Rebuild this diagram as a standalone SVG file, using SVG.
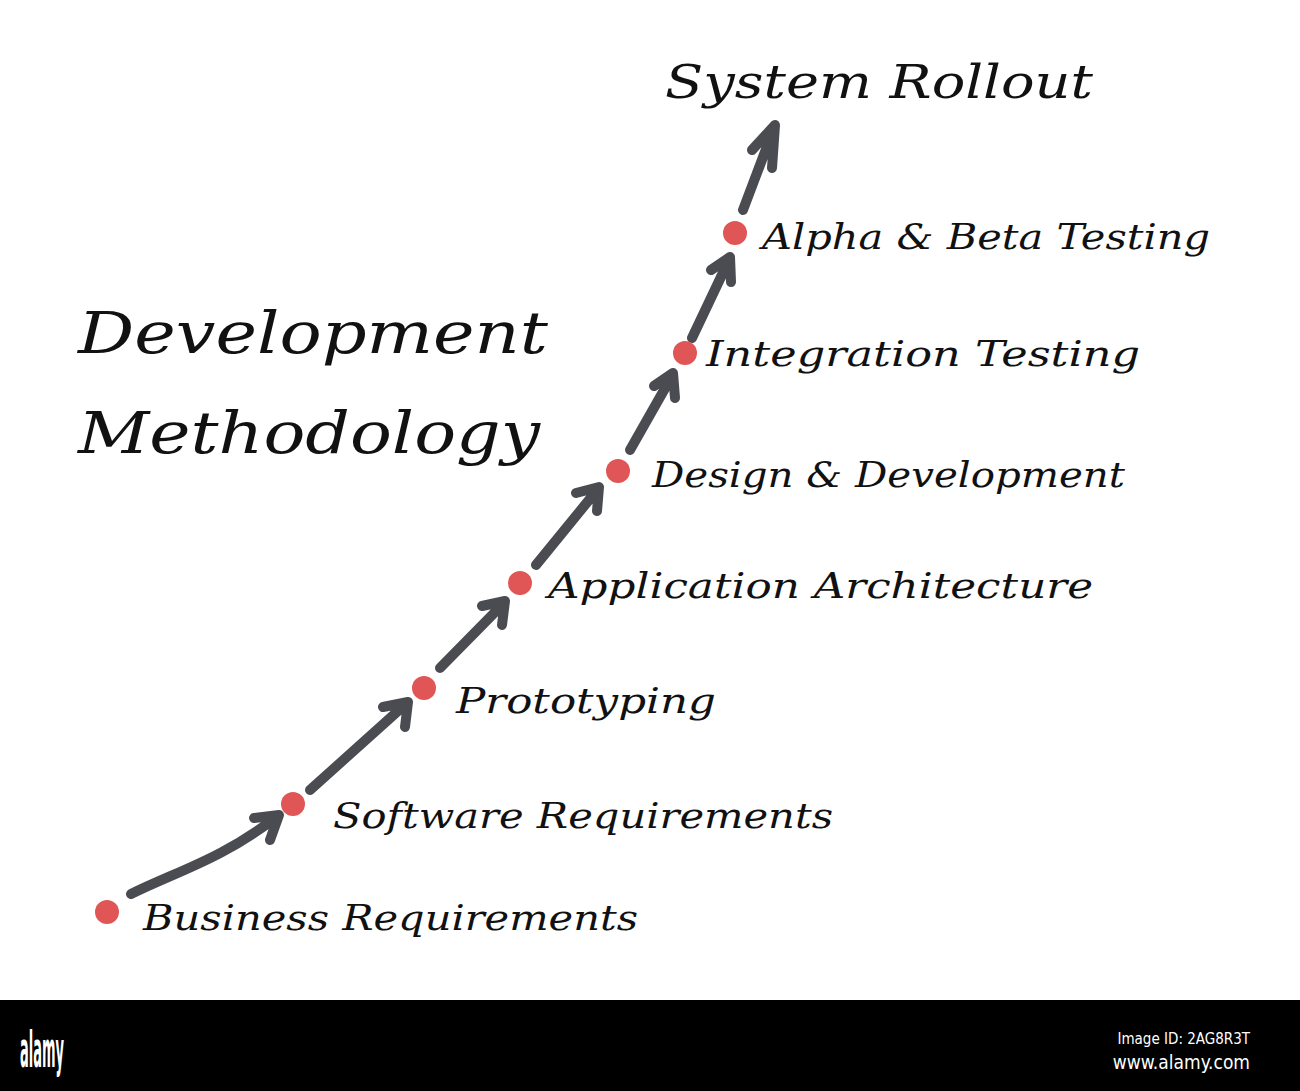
<svg xmlns="http://www.w3.org/2000/svg" width="1300" height="1091" viewBox="0 0 1300 1091">
<style>
.lbl{font-family:"DejaVu Serif","Liberation Serif",serif;font-style:italic;font-size:36px;fill:#111}
.ttl{font-family:"DejaVu Serif","Liberation Serif",serif;font-style:italic;font-size:58px;fill:#111}
.dot{fill:#e05656}
.arr{fill:none;stroke:#4b4b52;stroke-width:10;stroke-linecap:round;stroke-linejoin:round}
</style>
<rect width="1300" height="1091" fill="#fff"/>
<g id="title">
<text class="ttl" x="78" y="353" textLength="470" lengthAdjust="spacingAndGlyphs">Development</text>
<text class="ttl" x="78" y="453" textLength="462" lengthAdjust="spacingAndGlyphs">Methodology</text>
</g>
<g id="connectors">
<path class="arr" d="M131 894 C180 870 220 860 278 816 M254 818 L279 815 L270 840"/>
<path class="arr" d="M310 790 L408 702 M383 707 L408 702 L405 727"/>
<path class="arr" d="M440 668 L504 603 M482 606 L505 601 L502 625"/>
<path class="arr" d="M536 565 L598 489 M576 493 L599 487 L597 511"/>
<path class="arr" d="M630 450 L672 376 M654 386 L673 373 L675 398"/>
<path class="arr" d="M692 338 L729 260 M711 270 L730 257 L731 282"/>
<path class="arr" d="M743 210 L774 128 M752 150 L775 125 L772 168"/>
</g>
<g id="n1"><circle class="dot" cx="107" cy="912" r="12"/><text class="lbl" x="143" y="930" textLength="495" lengthAdjust="spacingAndGlyphs">Business Requirements</text></g>
<g id="n2"><circle class="dot" cx="293" cy="804" r="12"/><text class="lbl" x="333" y="828" textLength="500" lengthAdjust="spacingAndGlyphs">Software Requirements</text></g>
<g id="n3"><circle class="dot" cx="424" cy="688" r="12"/><text class="lbl" x="456" y="713" textLength="260" lengthAdjust="spacingAndGlyphs">Prototyping</text></g>
<g id="n4"><circle class="dot" cx="520" cy="583" r="12"/><text class="lbl" x="548" y="598" textLength="545" lengthAdjust="spacingAndGlyphs">Application Architecture</text></g>
<g id="n5"><circle class="dot" cx="618" cy="471" r="12"/><text class="lbl" x="652" y="487" textLength="473" lengthAdjust="spacingAndGlyphs">Design &amp; Development</text></g>
<g id="n6"><circle class="dot" cx="685" cy="353" r="12"/><text class="lbl" x="706" y="366" textLength="434" lengthAdjust="spacingAndGlyphs">Integration Testing</text></g>
<g id="n7"><circle class="dot" cx="735" cy="233" r="12"/><text class="lbl" x="762" y="249" textLength="448" lengthAdjust="spacingAndGlyphs">Alpha &amp; Beta Testing</text></g>
<g id="n8"><text class="lbl" x="665" y="98" style="font-size:46px" textLength="428" lengthAdjust="spacingAndGlyphs">System Rollout</text></g>
<g id="watermark">
<rect x="0" y="1000" width="1300" height="91" fill="#000"/>
<text x="20" y="1067" font-family="'Liberation Sans Narrow','DejaVu Sans Condensed',sans-serif" font-weight="bold" font-size="50" fill="#fff" textLength="44" lengthAdjust="spacingAndGlyphs">alamy</text>
<text x="1250" y="1044" text-anchor="end" font-family="'DejaVu Sans Condensed',sans-serif" font-size="15" fill="#fff">Image ID: 2AG8R3T</text>
<text x="1250" y="1069" text-anchor="end" font-family="'DejaVu Sans Condensed',sans-serif" font-size="19" fill="#fff">www.alamy.com</text>
</g>
</svg>
